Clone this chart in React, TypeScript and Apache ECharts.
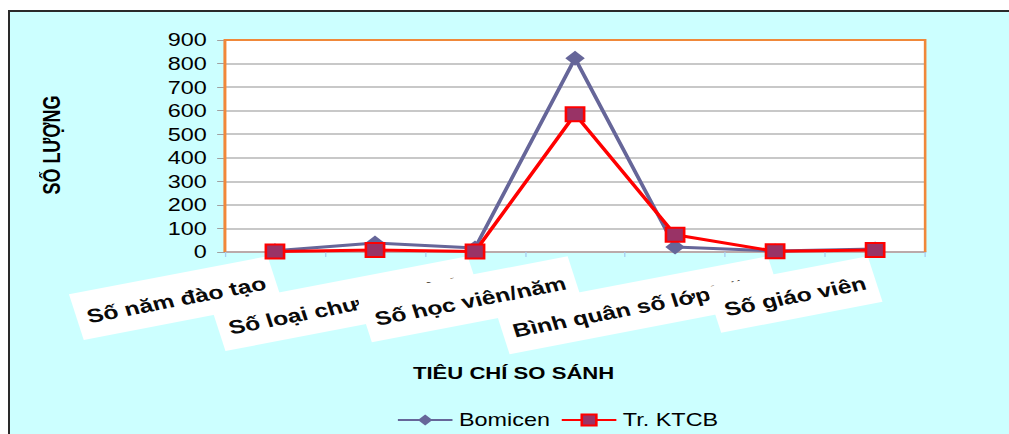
import React, { useEffect, useRef } from 'react';
import * as echarts from 'echarts';

// ---- data ----
const categories = [
  'Số năm đào tạo',
  'Số ngành nghề',
  'Số loại chương trình',
  'Số học viên/năm',
  'Số cán bộ',
  'Bình quân số lớp/năm',
  'Số giáo viên',
];
const shownLabels = [true, false, true, true, false, true, true];
const bomicen = [5, 38, 17, 822, 21, 4, 13];
const ktcb = [2, 8, 2, 585, 73, 3, 8];
const seriesNames = ['Bomicen', 'Tr. KTCB'];
const yMin = 0;
const yMax = 900;
const yStep = 100;

// ---- layout (chart drawn narrower, then stretched horizontally like the reference) ----
const PAGE_W = 1009;
const PAGE_H = 434;
const CHART_W = 776;
const STRETCH = PAGE_W / CHART_W;
const GRID_L = 173;
const GRID_R = 64.5;
const GRID_T = 40;
const GRID_B = 182;
const FONT = '"Liberation Sans", Arial, sans-serif';

export default function App() {
  const ref = useRef<HTMLDivElement>(null);

  useEffect(() => {
    if (!ref.current) return;
    const chart = echarts.init(ref.current, undefined, { renderer: 'svg' });
    const plotR = CHART_W - GRID_R;
    const plotB = PAGE_H - GRID_B;
    chart.setOption({
      animation: false,
      backgroundColor: 'transparent',
      grid: {
        left: GRID_L,
        right: GRID_R,
        top: GRID_T,
        bottom: GRID_B,
        show: true,
        backgroundColor: '#FFFFFF',
        borderWidth: 0,
      },
      legend: {
        data: seriesNames,
        left: 300,
        top: 406,
        itemWidth: 42,
        itemHeight: 14,
        itemGap: 8,
        textStyle: { fontSize: 18, color: '#000', fontFamily: FONT },
      },
      xAxis: {
        type: 'category',
        data: categories,
        boundaryGap: true,
        axisLine: { show: true, lineStyle: { color: '#BBAAAA', width: 2 } },
        axisTick: { show: true, interval: 0, length: 5, lineStyle: { color: '#A8CCF0', width: 1 } },
        axisLabel: {
          interval: 0,
          hideOverlap: false,
          rotate: 14,
          margin: 27,
          formatter: (v: string, i: number) => (shownLabels[i] ? `{b|${v}}` : ''),
          rich: {
            b: {
              fontSize: 19,
              fontWeight: 'bold',
              fontFamily: FONT,
              color: '#0A0A0A',
              backgroundColor: '#FFFFFF',
              padding: [16, 8, 12, 8],
            },
          },
        },
        splitLine: { show: false },
      },
      yAxis: {
        type: 'value',
        min: yMin,
        max: yMax,
        interval: yStep,
        axisLine: { show: true, lineStyle: { color: '#F0883A', width: 2 } },
        axisTick: { show: true, length: 6, lineStyle: { color: '#A0A0A0', width: 1 } },
        axisLabel: { fontSize: 18, color: '#000', margin: 14, fontFamily: FONT },
        splitLine: { show: true, lineStyle: { color: '#C8C8C8', width: 2 } },
      },
      graphic: [
        {
          type: 'polyline',
          z: 10,
          shape: {
            points: [
              [GRID_L, plotB],
              [GRID_L, GRID_T],
              [plotR, GRID_T],
              [plotR, plotB],
            ],
          },
          style: { stroke: '#F0883A', lineWidth: 2, fill: null },
          silent: true,
        },
        {
          type: 'text',
          x: 40,
          y: 145,
          rotation: Math.PI / 2,
          style: {
            text: 'SỐ LƯỢNG',
            fontSize: 18,
            fontWeight: 'bold',
            fontFamily: FONT,
            fill: '#000',
            align: 'center',
            verticalAlign: 'middle',
            textAlign: 'center',
            textVerticalAlign: 'middle',
          },
        },
        {
          type: 'text',
          x: 395,
          y: 373,
          style: {
            text: 'TIÊU CHÍ SO SÁNH',
            fontSize: 17,
            fontWeight: 'bold',
            fontFamily: FONT,
            fill: '#000',
            align: 'center',
            verticalAlign: 'middle',
            textAlign: 'center',
            textVerticalAlign: 'middle',
          },
        },
      ],
      series: [
        {
          name: seriesNames[0],
          type: 'line',
          data: bomicen,
          symbol: 'diamond',
          symbolSize: 15,
          itemStyle: { color: '#666699' },
          lineStyle: { color: '#666699', width: 3 },
        },
        {
          name: seriesNames[1],
          type: 'line',
          data: ktcb,
          symbol: 'rect',
          symbolSize: 14,
          itemStyle: { color: '#993366', borderColor: '#FF0000', borderWidth: 2 },
          lineStyle: { color: '#FF0000', width: 3 },
        },
      ],
    });
    return () => chart.dispose();
  }, []);

  return (
    <div
      style={{
        position: 'fixed',
        left: 0,
        top: 0,
        width: PAGE_W,
        height: PAGE_H,
        background: '#FFFFFF',
        overflow: 'hidden',
      }}
    >
      <div
        style={{
          position: 'absolute',
          left: 8,
          top: 10,
          width: PAGE_W,
          height: PAGE_H,
          background: '#CCFFFF',
          borderTop: '2px solid #2A2A2A',
          borderLeft: '2px solid #2A2A2A',
        }}
      />
      <div
        ref={ref}
        style={{
          position: 'absolute',
          left: 0,
          top: 0,
          width: CHART_W,
          height: PAGE_H,
          transform: `scaleX(${STRETCH})`,
          transformOrigin: '0 0',
        }}
      />
    </div>
  );
}
